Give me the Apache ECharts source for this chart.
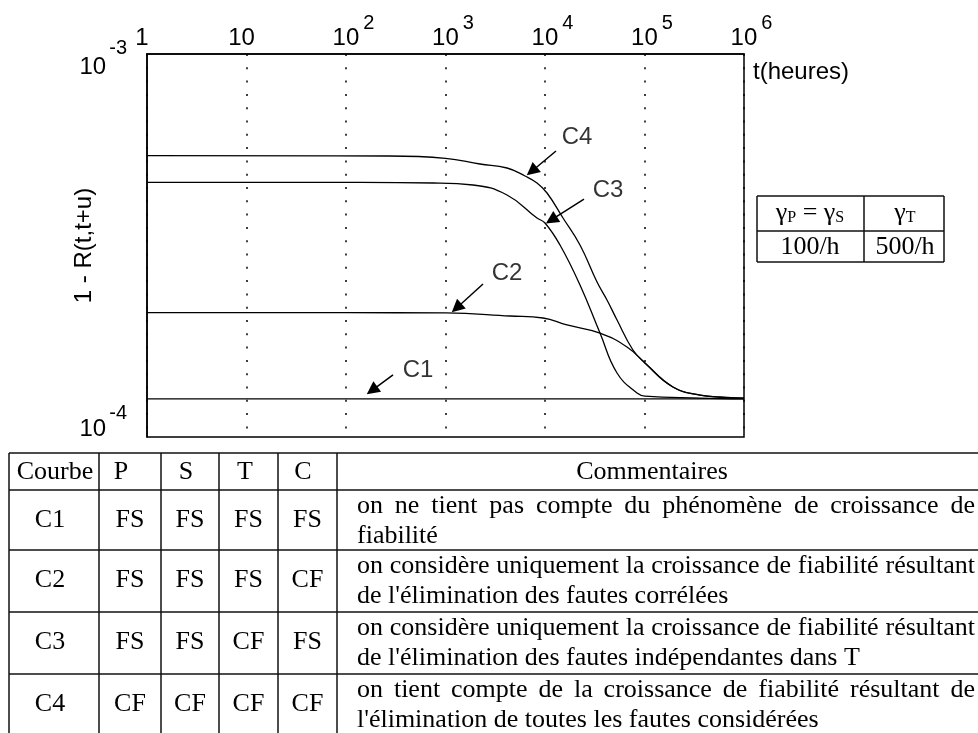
<!DOCTYPE html>
<html><head><meta charset="utf-8">
<script src="https://cdn.jsdelivr.net/npm/echarts@6/dist/echarts.min.js"></script>
<style>html,body{margin:0;padding:0;background:#fff}#c{width:978px;height:733px}</style>
</head><body><div id="c"></div>
<script>
// ---- data (t in hours, value of 1 - R(t,t+u)) ----
const curveC1 = [[1,1.257e-4],[1e6,1.257e-4]];
const curveC2 = [[1,2.111e-4],[100,2.111e-4],[1000,2.108e-4],[4450,2.070e-4],[9550,2.045e-4],[16630,1.961e-4],[35700,1.868e-4],[66700,1.718e-4],[1.01e5,1.561e-4],[1.93e5,1.351e-4],[3.61e5,1.287e-4],[5.74e5,1.272e-4],[1e6,1.264e-4]];
const curveC3 = [[1,4.624e-4],[100,4.62e-4],[750,4.605e-4],[1890,4.550e-4],[4150,4.284e-4],[8310,3.731e-4],[10000,3.621e-4],[14150,3.172e-4],[22480,2.494e-4],[35700,1.868e-4],[52950,1.469e-4],[84100,1.303e-4],[1.01e5,1.279e-4],[3.61e5,1.264e-4],[1e6,1.257e-4]];
const curveC4 = [[1,5.426e-4],[258,5.416e-4],[1000,5.342e-4],[2222,5.162e-4],[4150,5.039e-4],[6295,4.803e-4],[8310,4.605e-4],[10480,4.336e-4],[15170,3.731e-4],[22480,3.172e-4],[33340,2.538e-4],[41980,2.279e-4],[52950,2.021e-4],[76600,1.687e-4],[1.01e5,1.561e-4],[1.93e5,1.351e-4],[3.61e5,1.287e-4],[1e6,1.264e-4]];
const curveNames = ['C1','C2','C3','C4'];
// arrows: [start, end] in data coords
const arrowC1 = [[297,1.452e-4],[182.5,1.323e-4]];
const arrowC2 = [[2382,2.508e-4],[1293,2.172e-4]];
const arrowC3 = [[24660,4.182e-4],[11570,3.687e-4]];
const arrowC4 = [[12900,5.581e-4],[7365,4.943e-4]];
const curveLabelPos = [[529,1.496e-4,'C1'],[4150,2.681e-4,'C2'],[42970,4.415e-4,'C3'],[20980,6.071e-4,'C4']];
// tick labels [base, exponent]
const xTickLabels = [['1',''],['10',''],['10','2'],['10','3'],['10','4'],['10','5'],['10','6']];
const yTickLabels = [['10','-4'],['10','-3']];
const xName = 't(heures)';
const yName = '1 - R(t,t+u)';
// table
const tableHeader = ['Courbe','P','S','T','C','Commentaires'];
const colP = ['FS','FS','FS','CF'];
const colS = ['FS','FS','FS','CF'];
const colT = ['FS','FS','CF','CF'];
const colC = ['FS','CF','FS','CF'];
const comments = [
 ['on ne tient pas compte du phénomène de croissance de','fiabilité'],
 ['on considère uniquement la croissance de fiabilité résultant','de l\'élimination des fautes corrélées'],
 ['on considère uniquement la croissance de fiabilité résultant','de l\'élimination des fautes indépendantes dans T'],
 ['on tient compte de la croissance de fiabilité résultant de','l\'élimination de toutes les fautes considérées']
];
const rateHeader = ['{g|γ}{sub|P}{g| = γ}{sub|S}','{g|γ}{sub|T}'];
const rateValues = ['100/h','500/h'];

// ---- drawing ----
const SANS = '"Liberation Sans", Arial, sans-serif';
const SERIF = '"Liberation Serif", "Times New Roman", serif';
const chart = echarts.init(document.getElementById('c'), null, {renderer:'canvas'});
const ctx = document.createElement('canvas').getContext('2d');
function measure(t, font){ ctx.font = font; return ctx.measureText(t).width; }
function txt(s, x, y, align, size, fam, rich){
  const st = {text:s, font: size+'px '+fam, fill:'#000', align:align, textAlign:align, verticalAlign:'middle', textVerticalAlign:'middle'};
  if (rich) st.rich = rich;
  return {type:'text', x:x, y:y, style:st, silent:true, z:10};
}
function ln(x1,y1,x2,y2,w){ return {type:'line', shape:{x1,y1,x2,y2}, style:{stroke:'#111', lineWidth:w||1.5}, silent:true, z:10}; }
const G = [];
const tTop = 453, rowTops = [490,550,612,674], tBottom = 736;
[tTop].concat(rowTops, [tBottom]).forEach(y => G.push(ln(9,y,990,y)));
[9,99,161,219,278,337].forEach(x => G.push(ln(x,tTop,x,745)));
const TS = 26;
const headX = [55,121,186,245,303,652];
tableHeader.forEach((h,i) => G.push(txt(h, headX[i], 472, 'center', TS, SERIF)));
const colX = [50,130,190,248.5,307.5];
const cols = [curveNames, colP, colS, colT, colC];
rowTops.forEach((top,r) => {
  const yc = top + 30;
  cols.forEach((c,i) => G.push(txt(c[r], colX[i], yc, 'center', TS, SERIF)));
  const font = TS+'px '+SERIF;
  const L = 357, R = 975;
  const words = comments[r][0].split(' ');
  const ww = words.map(w => measure(w, font));
  const sum = ww.reduce((a,b)=>a+b,0);
  const gap = (R - L - sum)/(words.length-1);
  let x = L;
  words.forEach((w,i) => { G.push(txt(w, x, top+16, 'left', TS, SERIF)); x += ww[i] + gap; });
  G.push(txt(comments[r][1], L, top+46, 'left', TS, SERIF));
});
// small rate table
G.push(ln(757,196,944,196), ln(757,231,944,231), ln(757,262,944,262), ln(757,196,757,262), ln(944,196,944,262), ln(864,196,864,262));
const rich = {g:{fontSize:26, fontFamily:SERIF, lineHeight:28, color:'#000'}, sub:{fontSize:16, fontFamily:SERIF, lineHeight:16, padding:[10,0,0,0], color:'#000'}};
G.push(txt(rateHeader[0], 810, 213, 'center', 26, SERIF, rich));
G.push(txt(rateHeader[1], 905, 213, 'center', 26, SERIF, rich));
G.push(txt(rateValues[0], 810, 247, 'center', 26, SERIF));
G.push(txt(rateValues[1], 905, 247, 'center', 26, SERIF));
// x axis title
G.push(txt(xName, 753, 72, 'left', 24, SANS));

function arrowML(a){
  return {silent:true, animation:false, symbol:['none','triangle'], symbolSize:13,
    lineStyle:{color:'#000', width:1.5, type:'solid'}, itemStyle:{color:'#000'}, label:{show:false},
    data:[[{coord:a[0]},{coord:a[1]}]]};
}
const curves = [curveC1, curveC2, curveC3, curveC4];
const arrows = [arrowC1, arrowC2, arrowC3, arrowC4];
const series = curves.map((d,i) => ({
  type:'line', name:curveNames[i], data:d, symbol:'none', showSymbol:false, smooth:0.45,
  lineStyle:{color:'#000', width:1.3}, markLine: arrowML(arrows[i]), silent:true, z:3
}));
series.push({type:'scatter', data:curveLabelPos, symbolSize:1, itemStyle:{color:'rgba(0,0,0,0)'}, silent:true,
  label:{show:true, position:'inside', formatter: p => p.data[2], fontSize:24, fontFamily:SANS, color:'#000'}});

const mainR = {fontSize:24, fontFamily:SANS, color:'#000'};
const supR = {fontSize:20, fontFamily:SANS, color:'#000'};
const option = {
  animation:false,
  backgroundColor:'#fff',
  grid:{left:147, top:54, width:597, height:383, show:true, borderColor:'#000', borderWidth:1.5, backgroundColor:'transparent', containLabel:false, outerBoundsMode:'none'},
  xAxis:{type:'log', logBase:10, min:1, max:1e6, position:'top', splitNumber:6,
    axisLine:{show:true, lineStyle:{color:'#000', width:1.5}}, axisTick:{show:false},
    splitLine:{show:true, lineStyle:{color:'#000', width:1.5, type:[2,11.3]}},
    axisLabel:{show:true, margin:4, showMinLabel:true, showMaxLabel:true,
      formatter:(v) => { const k = Math.round(Math.log10(v)); const lb = xTickLabels[k]; if(!lb) return ''; return lb[1] ? '{b|'+lb[0]+'}{s|'+lb[1]+'}' : '{p|'+lb[0]+'}'; },
      rich:{
        b:Object.assign({lineHeight:24, padding:[13,0,13,15]}, mainR),
        s:Object.assign({lineHeight:20, padding:[0,0,30,4]}, supR),
        p:Object.assign({lineHeight:24, padding:[0,10,0,0]}, mainR)
      }}
  },
  yAxis:{type:'log', logBase:10, min:1e-4, max:1e-3, splitNumber:1,
    name:yName, nameLocation:'middle', nameRotate:90, nameGap:51, nameMoveOverlap:false,
    nameTextStyle:{fontSize:24, fontFamily:SANS, color:'#000'},
    axisLine:{show:true, lineStyle:{color:'#000', width:1.5}}, axisTick:{show:false}, splitLine:{show:false},
    axisLabel:{show:true, margin:20, showMinLabel:true, showMaxLabel:true,
      formatter:(v) => { const k = Math.round(Math.log10(v)) + 4; const lb = yTickLabels[k]; if(!lb) return ''; return k===1 ? '{ta|'+lb[0]+'}{ts|'+lb[1]+'}' : '{ba|'+lb[0]+'}{bs|'+lb[1]+'}'; },
      rich:{
        ta:Object.assign({lineHeight:24, padding:[26,0,0,0]}, mainR),
        ts:Object.assign({lineHeight:20, padding:[9,0,21,3]}, supR),
        ba:Object.assign({lineHeight:24, padding:[14,0,30,0]}, mainR),
        bs:Object.assign({lineHeight:20, padding:[0,0,48,3]}, supR)
      }}
  },
  series: series,
  graphic: G
};
chart.setOption(option);
</script>
</body></html>
